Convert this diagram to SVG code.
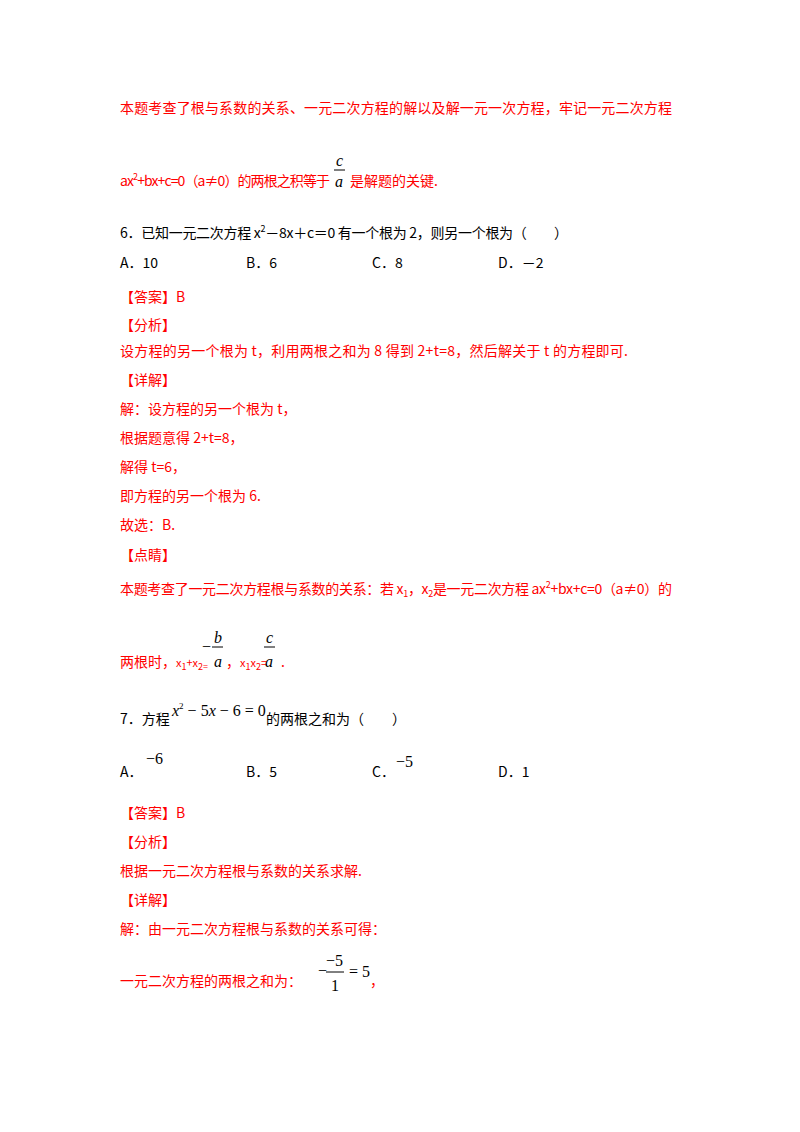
<svg xmlns="http://www.w3.org/2000/svg" width="800" height="1132" viewBox="0 0 800 1132">
<style>
text{font-family:"Noto Sans CJK SC","Liberation Sans",sans-serif;font-size:14px;fill:#000}
.r{fill:#ff0000}
.m{font-family:"Liberation Serif",serif;font-style:italic;font-size:16px}
.n{font-family:"Liberation Serif",serif;font-size:16px}
.s{font-size:9px}
</style>
<rect width="800" height="1132" fill="#fff"/>
<text class="r" x="120" y="113" textLength="552">本题考查了根与系数的关系、一元二次方程的解以及解一元一次方程，牢记一元二次方程</text>
<text class="r" x="120" y="186" textLength="210">ax<tspan class="s" dy="-6">2</tspan><tspan dy="6">+bx+c=0（a≠0）的两根之积等于</tspan></text>
<text class="m" x="336" y="166">c</text><line x1="334" y1="170" x2="345" y2="170" stroke="#000"/><text class="m" x="335" y="187">a</text>
<text class="r" x="350" y="186">是解题的关键.</text>
<text x="120" y="238" textLength="448">6．已知一元二次方程 x<tspan class="s" dy="-6">2</tspan><tspan dy="6">－8x＋c＝0 有一个根为 2，则另一个根为（　　）</tspan></text>
<text x="120" y="268">A．10</text><text x="246" y="268">B．6</text><text x="372" y="268">C．8</text><text x="498" y="268">D．－2</text>
<text class="r" x="120" y="302">【答案】B</text>
<text class="r" x="120" y="330">【分析】</text>
<text class="r" x="120" y="356" textLength="508">设方程的另一个根为 t，利用两根之和为 8 得到 2+t=8，然后解关于 t 的方程即可.</text>
<text class="r" x="120" y="385">【详解】</text>
<text class="r" x="120" y="414">解：设方程的另一个根为 t，</text>
<text class="r" x="120" y="443">根据题意得 2+t=8，</text>
<text class="r" x="120" y="472">解得 t=6，</text>
<text class="r" x="120" y="501">即方程的另一个根为 6.</text>
<text class="r" x="120" y="530">故选：B.</text>
<text class="r" x="120" y="560">【点睛】</text>
<text class="r" x="120" y="594" textLength="552">本题考查了一元二次方程根与系数的关系：若 x<tspan class="s" dy="3">1</tspan><tspan dy="-3">，x</tspan><tspan class="s" dy="3">2</tspan><tspan dy="-3">是一元二次方程 ax</tspan><tspan class="s" dy="-6">2</tspan><tspan dy="6">+bx+c=0（a≠0）的</tspan></text>
<text class="r" x="120" y="667">两根时，<tspan font-size="11">x</tspan><tspan class="s" dy="3">1</tspan><tspan font-size="11" dy="-3">+x</tspan><tspan class="s" dy="3">2=</tspan></text>
<text class="n" x="202" y="652">−</text><text class="m" x="214" y="643">b</text><line x1="212" y1="647" x2="223" y2="647" stroke="#000"/><text class="m" x="214" y="667">a</text>
<text class="r" x="226" y="667">，<tspan font-size="11">x</tspan><tspan class="s" dy="3">1</tspan><tspan font-size="11" dy="-3">x</tspan><tspan class="s" dy="3">2</tspan><tspan font-size="11" dy="-3">=</tspan></text>
<text class="m" x="266" y="643">c</text><line x1="264" y1="647" x2="275" y2="647" stroke="#000"/><text class="m" x="265" y="667">a</text>
<text class="r" x="281" y="667">.</text>
<text x="120" y="724">7．方程</text>
<text class="m" x="172" y="716">x<tspan class="s" font-style="normal" dy="-7">2</tspan><tspan font-style="normal" dy="7"> − 5</tspan>x<tspan font-style="normal"> − 6 = 0</tspan></text>
<text x="266" y="724">的两根之和为（　　）</text>
<text x="120" y="777">A．</text><text class="n" x="146" y="764">−6</text>
<text x="246" y="777">B．5</text>
<text x="372" y="777">C．</text><text class="n" x="396" y="767" font-size="13">−5</text>
<text x="498" y="777">D．1</text>
<text class="r" x="120" y="818">【答案】B</text>
<text class="r" x="120" y="847">【分析】</text>
<text class="r" x="120" y="876">根据一元二次方程根与系数的关系求解.</text>
<text class="r" x="120" y="905">【详解】</text>
<text class="r" x="120" y="934">解：由一元二次方程根与系数的关系可得：</text>
<text class="r" x="120" y="986">一元二次方程的两根之和为：</text>
<text class="n" x="318" y="976">−</text><text class="n" x="326" y="966">−5</text><line x1="326" y1="972" x2="344" y2="972" stroke="#000"/><text class="n" x="331" y="991">1</text>
<text class="n" x="349" y="977">= 5</text>
<text class="r" x="370" y="986">，</text>
</svg>
